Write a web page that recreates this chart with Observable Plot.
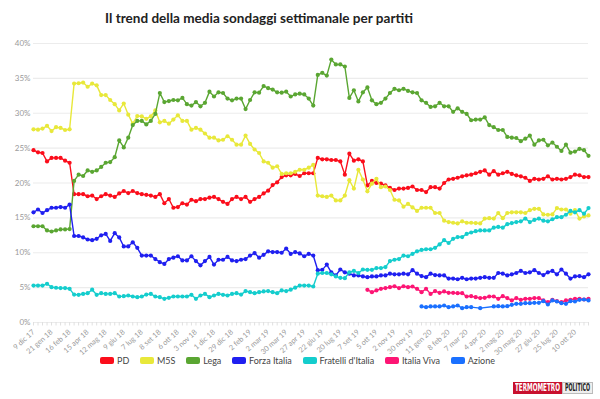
<!DOCTYPE html>
<html><head><meta charset="utf-8">
<script src="https://cdn.jsdelivr.net/npm/d3@7"></script>
<script src="https://cdn.jsdelivr.net/npm/@observablehq/plot@0.6"></script>
<style>
html,body{margin:0;padding:0;background:#fff;}
#wrap{position:relative;width:600px;height:399px;overflow:hidden;font-family:Lato,"Open Sans",sans-serif;}
#chart{position:absolute;left:0;top:0;}
#title{position:absolute;left:0;top:8px;width:518px;text-align:center;font-weight:700;font-size:15px;color:#222;white-space:nowrap;line-height:20px;}
#title span{display:inline-block;}
#legend{position:absolute;left:100px;top:353px;width:395px;height:15px;display:flex;justify-content:space-between;align-items:center;font-size:9px;color:#444;}
#legend .it{display:flex;align-items:center;}
#legend .sw{width:14px;height:7px;border-radius:2px;margin-right:3px;}
#logo{position:absolute;left:513px;top:382px;height:12px;display:flex;}
#logo .box{height:12px;position:relative;box-sizing:border-box;}
#logo .box span{position:absolute;left:2px;top:0px;transform-origin:0 0;font-family:"DejaVu Sans",sans-serif;font-weight:bold;font-size:11px;line-height:12px;white-space:nowrap;}
#logo .r{width:49px;background:#c8102e;color:#fff;}
#logo .p{width:31px;background:#eee;color:#222;border:1px solid #bbb;}
#logo .p span{top:-1px;left:1.5px;}
</style></head>
<body><div id="wrap"><div id="chart"></div><div id="title"><span>Il trend della media sondaggi settimanale per partiti</span></div><div id="legend"></div>
<div id="logo"><div class="box r"><span>TERMOMETRO</span></div><div class="box p"><span>POLITICO</span></div></div></div>
<script>
const parties = ["PD","M5S","Lega","Forza Italia","Fratelli d'Italia","Italia Viva","Azione"];
const partyColors = ["#fb0d1b","#e8e83a","#5aa632","#1f1ff0","#14cdcd","#fd1574","#1a70ff"];
const tickLabels = ["9 dic 17","21 gen 18","16 feb 18","15 apr 18","12 mag 18","9 giu 18","7 lug 18","8 set 18","6 ott 18","3 nov 18","1 dic 18","29 dic 18","2 feb 19","2 mar 19","30 mar 19","27 apr 19","22 giu 19","20 lug 19","7 set 19","5 ott 19","2 nov 19","30 nov 19","11 gen 20","8 feb 20","7 mar 20","4 apr 20","2 mag 20","30 mag 20","27 giu 20","25 lug 20","10 ott 20"];
const yTicks = [0,5,10,15,20,25,30,35,40];

const pd = [24.7,24.4,24.3,23.1,23.6,23.6,23.6,23.2,22.9,
18.4,18.4,18.4,18.1,18.2,17.7,18.1,18.4,18.2,18.0,
18.5,18.85,18.55,18.85,18.55,18.4,18.3,18.2,18.0,18.4,
17.1,17.7,16.45,16.55,17.1,16.9,17.6,17.4,17.7,17.7,
17.9,18.0,17.7,17.3,17.0,17.7,18.0,17.7,18.0,17.3,
17.7,18.0,18.5,18.9,19.7,20.1,20.85,21.1,21.1,21.3,
21.0,21.4,21.4,21.4,
23.6,23.4,23.4,23.3,23.3,23.1,21.2,24.2,23.2,23.4,23.1,
19.65,20.3,20.0,19.9,19.65,19.3,19.0,19.2,19.2,19.3,
19.5,19.0,19.0,18.7,19.4,19.4,19.2,20.0,20.5,20.6,
20.75,20.95,21.1,21.2,21.4,21.6,21.8,21.2,21.7,21.2,
21.4,21.6,21.3,21.1,20.95,20.75,20.3,20.6,20.5,20.6,
20.95,20.5,20.6,20.5,20.6,20.85,21.2,21.1,20.85,20.85];

const m5s = [27.7,27.65,27.8,28.2,27.45,28.0,27.9,27.6,27.7,
34.25,34.3,34.4,33.8,34.25,34.0,32.6,32.6,31.9,31.3,
30.4,31.4,29.8,28.5,29.6,29.55,29.2,29.55,30.4,28.7,
28.9,28.5,29.1,29.7,28.9,28.9,27.65,27.9,27.65,27.1,
26.5,26.5,26.1,26.2,26.7,26.2,25.5,25.5,26.8,25.6,
24.8,24.3,23.1,22.9,22.2,22.4,21.3,21.4,21.4,21.6,
21.9,21.9,22.2,22.6,
18.2,18.1,18.0,18.2,17.5,17.5,18.2,20.4,19.2,21.9,
20.5,18.8,19.9,20.6,19.4,19.5,19.0,17.6,17.5,16.6,
17.0,16.5,16.0,16.45,16.45,16.45,15.7,15.7,14.6,14.4,
14.3,14.2,14.5,14.3,14.3,14.25,14.2,14.9,14.95,14.9,
15.7,14.95,15.7,15.8,15.8,15.8,15.7,16.1,16.3,16.3,
15.5,15.45,15.5,16.4,16.2,16.2,15.6,16.1,14.9,15.2,
15.35];

const lega = [13.8,13.8,13.8,13.2,13.05,13.2,13.35,13.35,13.4,
20.3,21.2,21.0,21.8,21.6,21.8,22.3,22.9,23.0,23.7,
26.1,25.1,26.5,28.3,28.9,28.9,28.4,28.9,29.9,32.9,
31.6,31.75,31.9,31.85,32.2,31.3,31.1,31.6,31.0,31.5,
33.1,32.4,33.0,32.9,32.1,31.85,32.1,32.1,30.6,31.9,
33.0,32.95,33.9,33.6,33.4,33.0,32.95,33.1,32.4,32.7,
32.8,32.7,32.1,31.1,35.5,35.8,35.4,37.7,37.0,37.0,
36.7,32.2,33.3,31.7,33.0,33.7,31.85,31.3,31.5,32.1,
32.9,33.5,33.3,33.5,33.2,33.0,32.9,31.85,31.5,30.9,
31.0,31.5,31.0,31.0,30.2,30.7,30.2,29.9,29.0,29.1,
29.1,29.4,28.3,28.0,27.6,27.6,26.6,26.5,26.45,26.0,
26.35,26.8,25.5,26.1,26.2,25.4,25.8,25.2,24.6,25.5,
24.35,24.5,24.9,24.7,23.9];

const forzaItalia = [15.8,16.2,15.7,16.1,16.45,16.45,16.55,16.45,16.9,
12.4,12.4,12.2,11.9,11.8,12.0,12.5,12.7,11.7,12.8,
12.2,10.9,10.9,11.5,10.7,9.6,9.6,9.6,9.1,8.65,
8.4,9.1,9.3,9.5,8.9,8.9,9.5,8.8,8.2,8.8,
9.4,8.3,9.0,9.0,9.4,8.9,8.8,9.0,9.1,9.6,
9.95,9.3,9.7,10.2,10.1,10.1,10.0,10.6,9.85,10.1,
9.9,9.5,9.85,9.6,7.5,7.55,8.3,7.2,6.75,7.6,
7.2,7.0,6.75,6.75,6.6,6.5,6.6,6.6,6.75,6.75,
7.0,6.9,6.9,7.0,6.9,7.5,7.0,6.65,6.5,7.0,
6.8,6.75,6.75,6.3,6.3,6.2,6.4,6.2,6.3,6.3,
6.4,6.5,6.4,6.4,7.1,7.0,6.75,6.9,7.1,7.4,
7.1,7.2,7.5,7.1,6.8,7.2,7.4,6.9,7.6,7.0,
6.3,6.6,6.65,6.5,6.9];

const fratelli = [5.3,5.3,5.3,5.55,5.07,4.98,4.93,4.93,4.83,
4.0,3.97,4.1,4.2,4.7,3.97,4.2,4.1,4.1,4.2,
3.73,3.78,3.87,3.73,3.63,3.73,4.0,4.1,3.73,3.63,
3.4,3.54,3.73,3.73,3.73,3.73,3.97,3.4,3.87,4.1,
3.63,3.87,4.1,3.97,3.87,4.1,4.2,4.0,4.5,4.35,
4.2,4.35,4.45,4.5,4.35,4.2,4.6,4.5,4.7,5.0,
5.3,5.3,5.3,5.16,7.0,7.1,7.1,6.9,6.6,6.4,
6.36,7.2,7.4,7.1,7.6,7.55,7.55,7.8,7.8,7.95,
8.8,9.0,9.1,9.6,9.5,9.85,10.2,10.4,10.5,10.5,
10.7,11.2,11.8,11.4,12.0,12.25,12.25,12.7,12.9,13.1,
13.2,13.2,13.2,13.6,13.7,13.6,14.1,14.25,14.4,14.5,
14.9,14.4,14.7,14.9,14.6,14.5,14.8,15.1,15.1,15.45,
16.0,15.8,16.1,15.6,16.4];

const italiaViva = [null,null,null,null,null,null,null,null,null,null,
null,null,null,null,null,null,null,null,null,null,
null,null,null,null,null,null,null,null,null,null,
null,null,null,null,null,null,null,null,null,null,
null,null,null,null,null,null,null,null,null,null,
null,null,null,null,null,null,null,null,null,null,
null,null,null,null,null,null,null,null,null,null,
null,null,null,null,
4.69,4.35,4.6,4.83,4.93,5.07,5.2,4.93,5.2,5.07,
5.16,4.83,4.35,4.83,4.1,4.5,4.25,4.45,4.25,4.25,
4.2,4.2,3.73,3.78,3.63,3.5,3.54,3.73,3.73,3.4,
3.78,3.5,3.16,3.5,3.25,3.4,3.4,3.5,3.5,3.16,
2.92,3.25,3.06,2.92,3.16,3.25,3.4,3.4,3.3,3.4];

const azione = [null,null,null,null,null,null,null,null,null,null,
null,null,null,null,null,null,null,null,null,null,
null,null,null,null,null,null,null,null,null,null,
null,null,null,null,null,null,null,null,null,null,
null,null,null,null,null,null,null,null,null,null,
null,null,null,null,null,null,null,null,null,null,
null,null,null,null,null,null,null,null,null,null,
null,null,null,null,null,null,null,null,null,null,
null,null,null,null,null,null,
2.3,2.2,2.3,2.3,2.3,2.44,2.2,2.3,2.44,2.06,2.2,2.2,
null,2.06,null,null,
2.3,2.34,2.3,2.34,2.53,2.68,2.68,2.77,2.77,2.82,
2.82,3.06,2.58,3.16,3.01,2.77,2.68,3.06,3.01,3.25,
3.3,3.16];

const series = [pd, m5s, lega, forzaItalia, fratelli, italiaViva, azione];
const n = pd.length;

const rows = [];
series.forEach((arr, k) => arr.forEach((v, i) => { if (v != null) rows.push({i, v, party: parties[k]}); }));

const lineMarks = [];
parties.forEach((p, k) => {
  const d = rows.filter(r => r.party === p);
  lineMarks.push(Plot.line(d, {x: "i", y: "v", stroke: partyColors[k], strokeWidth: 1.4}));
  lineMarks.push(Plot.dot(d, {x: "i", y: "v", r: 2.1, fill: partyColors[k], stroke: "none"}));
});

const labelIdx = tickLabels.map((_, j) => j * 4);

const chart = Plot.plot({
  width: 600, height: 352,
  marginTop: 43, marginBottom: 30, marginLeft: 33, marginRight: 12,
  style: {fontFamily: "Lato, 'Open Sans', sans-serif", background: "transparent", overflow: "visible"},
  x: {type: "linear", domain: [0, n - 1], label: null},
  y: {domain: [0, 40], label: null},
  marks: [
    Plot.ruleY(yTicks, {stroke: "#ececec", strokeWidth: 1.2}),
    Plot.axisY(yTicks, {tickSize: 0, tickPadding: 3, tickFormat: d => d + "%", fontSize: 8, fill: "#9a9a9a", label: null}),
    Plot.axisX(d3.range(n), {tickSize: 3.5, stroke: "#e0e0e0", tickFormat: () => "", label: null}),
    Plot.axisX(labelIdx, {tickSize: 0, tickPadding: 8.5, tickRotate: -42, tickFormat: i => tickLabels[i / 4], fontSize: 7.3, fill: "#9a9a9a", label: null}),
    ...lineMarks
  ]
});
document.getElementById("chart").appendChild(chart);

// legend
const lg = document.getElementById("legend");
parties.forEach((p, k) => {
  const it = document.createElement("div"); it.className = "it";
  const sw = document.createElement("div"); sw.className = "sw"; sw.style.background = partyColors[k];
  const tx = document.createElement("span"); tx.textContent = p;
  it.appendChild(sw); it.appendChild(tx); lg.appendChild(it);
});

// fit title width
const ts = document.querySelector("#title span");
const tw = ts.getBoundingClientRect().width;
document.getElementById("title").style.fontSize = (15 * 308 / tw) + "px";

// fit logo text
document.querySelectorAll("#logo .box span").forEach(s => {
  const box = s.parentElement;
  const target = box.clientWidth - 4;
  const w = s.getBoundingClientRect().width;
  s.style.transform = `scaleX(${target / w})`;
});
</script></body></html>
